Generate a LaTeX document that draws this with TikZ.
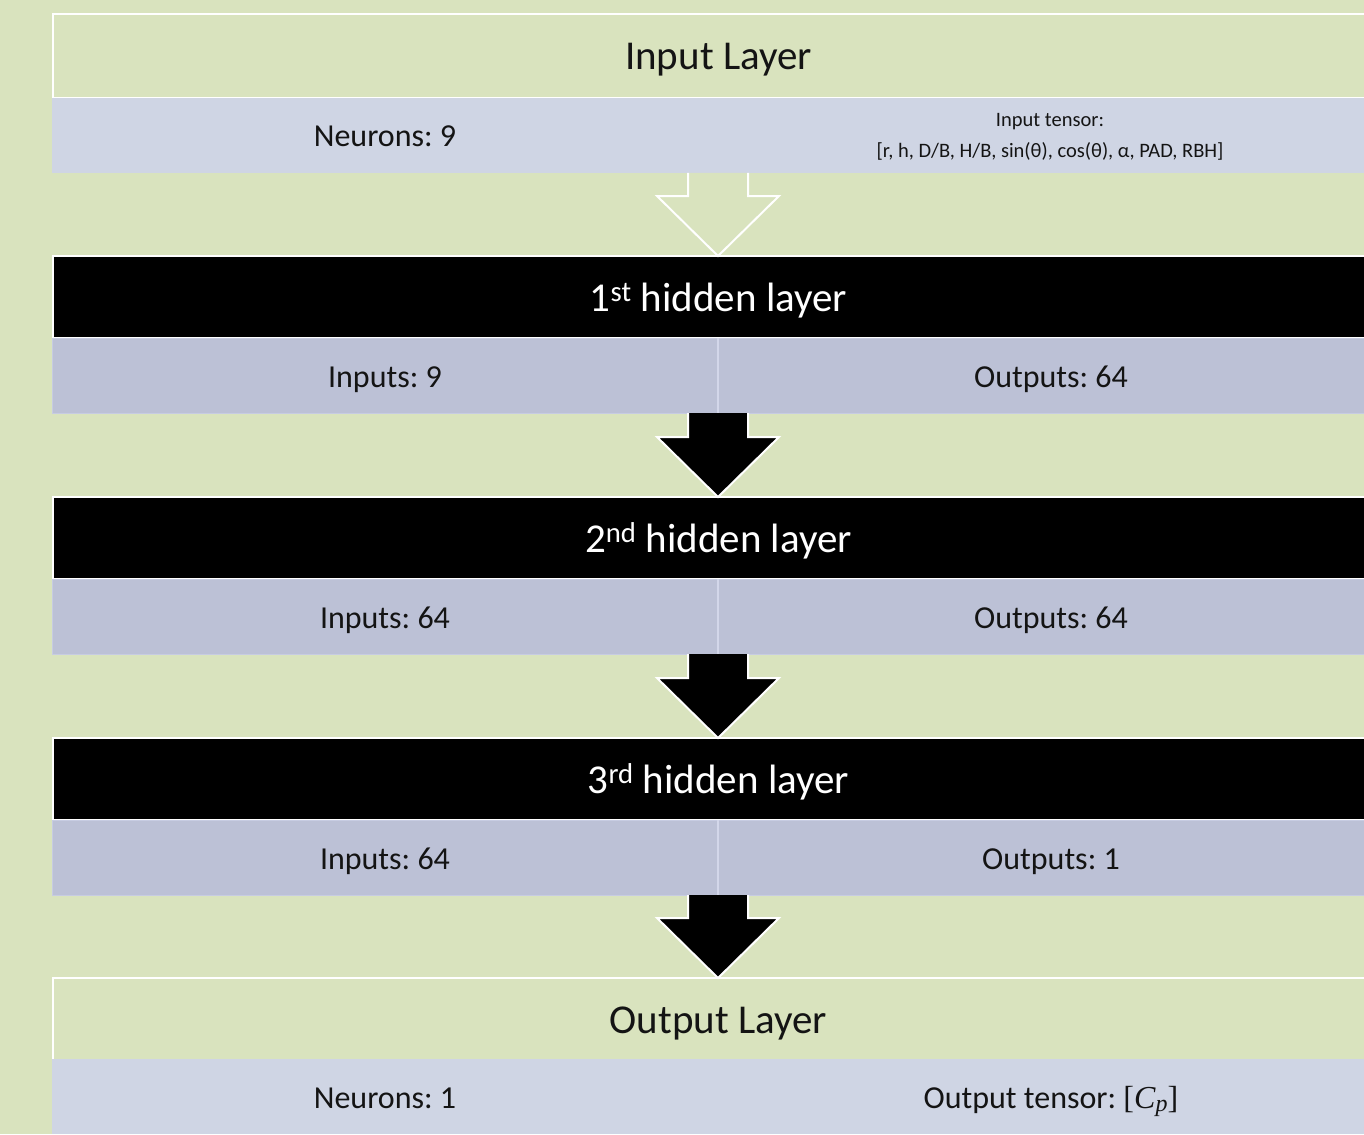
\documentclass[tikz,border=0pt]{standalone}
\usepackage{fontspec}
\setmainfont{Carlito}
\newfontfamily\cambriaish{Liberation Serif}
\frenchspacing
\usetikzlibrary{calc}
\definecolor{bg}{HTML}{D9E3BE}
\definecolor{bandin}{HTML}{CFD5E4}
\definecolor{bandhid}{HTML}{BCC1D6}
\definecolor{bandedge}{HTML}{C7CCE2}
\definecolor{divider}{HTML}{D3D7EA}
\definecolor{txt}{HTML}{141414}
\tikzset{
  hdr/.style={anchor=north west, inner sep=0pt, outer sep=0pt, minimum width=1331pt,
    draw=white, line width=2pt, font=\fontsize{41}{45}\selectfont,
    text height=35pt, text depth=7pt},
  greenhdr/.style={hdr, fill=bg, text=txt, minimum height=84pt},
  blackhdr/.style={hdr, fill=black, text=white, minimum height=82pt},
  band/.style={anchor=north west, inner sep=0pt, outer sep=0pt, minimum width=666pt,
    minimum height=75pt, text=txt, font=\fontsize{32}{36}\selectfont,
    text height=29pt, text depth=6pt},
  inband/.style={band, fill=bandin},
  hidband/.style={band, fill=bandhid, draw=bandedge, line width=0.8pt},
  hollowarrow/.style={fill=bg, draw=white, line width=2pt, line join=miter},
  solidarrow/.style={fill=black, draw=white, line width=2pt, line join=miter}
}
\newcommand{\blockarrow}[3]{%
  \path[#3] let \p1=(#1), \p2=(#2) in
    (\x1-30pt,\y1) -- (\x1-30pt,\y2+60pt) -- (\x1-61pt,\y2+60pt) -- (\x1,\y2)
    -- (\x1+61pt,\y2+60pt) -- (\x1+30pt,\y2+60pt) -- (\x1+30pt,\y1);}
\begin{document}
\begin{tikzpicture}[x=1pt,y=-1pt]
\fill[bg] (0,0) rectangle (1364,1134);
\useasboundingbox (0,0) rectangle (1364,1134);
\begin{scope}
\clip (0,0) rectangle (1364,1134);
% Input layer
\node[greenhdr] (inH) at (53,14) {Input Layer};
\node[inband] (inL) at (52,98) {Neurons: 9};
\node[inband] (inR) at (718,98) {};
\node[align=center, text=txt, font=\fontsize{20.5}{31}\selectfont] (inT) at (1050,137)
  {Input tensor:\\{}[r, h, D/B, H/B, sin(θ), cos(θ), α, PAD, RBH]};
% Hidden 1
\node[blackhdr] (h1H) at (53,256) {1\textsuperscript{st} hidden layer};
\node[hidband] (h1L) at (52,338) {Inputs: 9};
\node[hidband] (h1R) at (718,338) {Outputs: 64};
\draw[divider, line width=1.5pt] (h1L.north east) -- (h1L.south east);
% Hidden 2
\node[blackhdr] (h2H) at (53,497) {2\textsuperscript{nd} hidden layer};
\node[hidband] (h2L) at (52,579) {Inputs: 64};
\node[hidband] (h2R) at (718,579) {Outputs: 64};
\draw[divider, line width=1.5pt] (h2L.north east) -- (h2L.south east);
% Hidden 3
\node[blackhdr] (h3H) at (53,738) {3\textsuperscript{rd} hidden layer};
\node[hidband] (h3L) at (52,820) {Inputs: 64};
\node[hidband] (h3R) at (718,820) {Outputs: 1};
\draw[divider, line width=1.5pt] (h3L.north east) -- (h3L.south east);
% Output layer
\node[greenhdr, minimum height=82pt] (outH) at (53,978) {Output Layer};
\node[inband] (outL) at (52,1059) {Neurons: 1};
\node[inband] (outR) at (718,1059) {Output tensor: {\cambriaish[\textit{C}\raisebox{-0.25ex}{\fontsize{24}{26}\selectfont\textit{p}}]}};
% Arrows
\blockarrow{inL.south east}{h1H.north}{hollowarrow}
\blockarrow{h1L.south east}{h2H.north}{solidarrow}
\blockarrow{h2L.south east}{h3H.north}{solidarrow}
\blockarrow{h3L.south east}{outH.north}{solidarrow}
\end{scope}
\end{tikzpicture}
\end{document}
